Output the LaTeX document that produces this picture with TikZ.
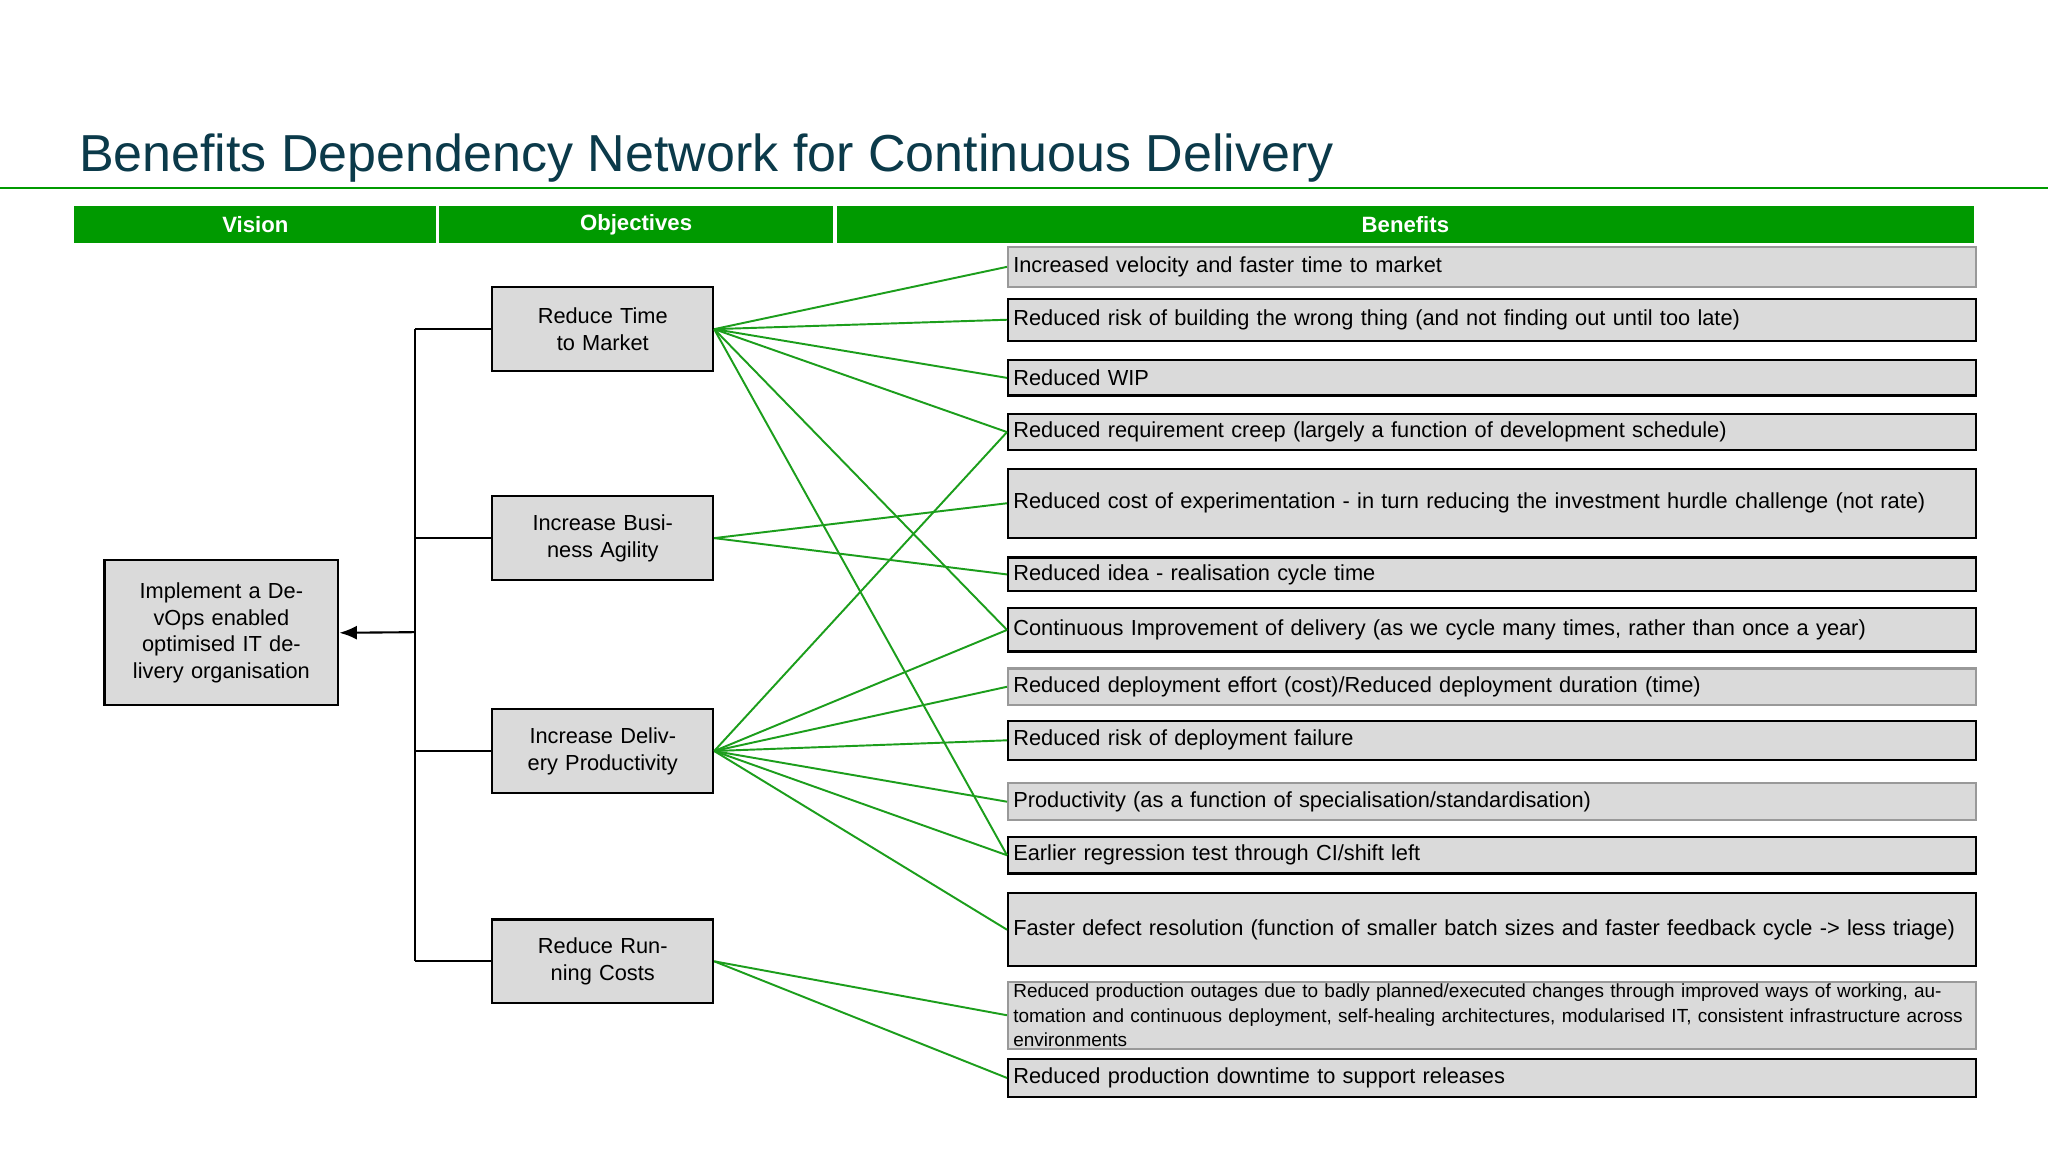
\documentclass[tikz,border=0pt]{standalone}
\usepackage{fontspec}
\setmainfont{Liberation Sans}
\usetikzlibrary{arrows.meta}
\definecolor{hdrgreen}{HTML}{009A00}
\definecolor{lnkgreen}{HTML}{1C9E1C}
\definecolor{titleblue}{HTML}{0B3A4A}
\definecolor{boxgray}{HTML}{DADADA}
\newlength{\pxu}
\setlength{\pxu}{0.01306cm}
\begin{document}
\begin{tikzpicture}[x=\pxu, y=-\pxu,
  box/.style={draw=black, fill=boxgray, line width=0.6pt, inner sep=0pt, align=center,
    font=\fontsize{6.2}{7.6}\selectfont},
  obj/.style={box, minimum width=169\pxu, minimum height=64\pxu, text width=160\pxu},
  ben/.style={box, anchor=north west, minimum width=741\pxu, text width=733\pxu, align=left},
  gben/.style={ben, draw=gray!80},
  hdr/.style={fill=hdrgreen, text=white, inner sep=0pt, font=\bfseries\fontsize{6.3}{7.5}\selectfont},
  link/.style={draw=lnkgreen, line width=0.55pt},
  tree/.style={draw=black, line width=0.6pt},
  ]
  \useasboundingbox[fill=white] (0,0) rectangle (1568,882);

  % title
  \node (title) [anchor=base west, inner sep=0pt, text=titleblue, font=\fontsize{14.8}{16}\selectfont] at (60,131) {Benefits Dependency Network for Continuous Delivery};
  \draw[hdrgreen, line width=0.5pt] (0,144) -- (1568,144);

  % header bar
  \node (hv) [hdr, minimum width=277\pxu, minimum height=28\pxu] at (195.5,172) {Vision};
  \node (ho) [hdr, minimum width=302\pxu, minimum height=28\pxu] at (487,172) {Objectives};
  \node (hb) [hdr, minimum width=871\pxu, minimum height=28\pxu] at (1076,172) {Benefits};

  % vision
  \node (vis) [box, minimum width=179\pxu, minimum height=111\pxu, text width=150\pxu] at (169.5,484.5)
    {Implement a DevOps enabled optimised IT delivery organisation};

  % objectives
  \node (o1) [obj] at (461.5,252) {Reduce Time to Market};
  \node (o2) [obj] at (461.5,412) {Increase Business Agility};
  \node (o3) [obj] at (461.5,575) {Increase Delivery Productivity};
  \node (o4) [obj] at (461.5,736) {Reduce Running Costs};

  % tree
  \coordinate (tt) at (318,252);
  \coordinate (tb) at (318,736);
  \coordinate (tm) at (318,484);
  \coordinate (t2) at (318,412);
  \coordinate (t3) at (318,575);
  \path[tree] (tt) -- (tb);
  \path[tree] (tt) -- (o1.west);
  \path[tree] (t2) -- (o2.west);
  \path[tree] (t3) -- (o3.west);
  \path[tree] (tb) -- (o4.west);
  \draw[tree, -{Latex[length=5pt,width=4pt]}] (tm) -- (vis.east);

  % benefits
  \node (b1) [gben, minimum height=31\pxu] at (771,188) {Increased velocity and faster time to market};
  \node (b2) [ben, minimum height=32\pxu] at (771,228) {Reduced risk of building the wrong thing (and not finding out until too late)};
  \node (b3) [ben, minimum height=27\pxu] at (771,275) {Reduced WIP};
  \node (b4) [ben, minimum height=28\pxu] at (771,316) {Reduced requirement creep (largely a function of development schedule)};
  \node (b5) [ben, minimum height=53\pxu] at (771,358) {Reduced cost of experimentation - in turn reducing the investment hurdle challenge (not rate)};
  \node (b6) [ben, minimum height=26\pxu] at (771,426) {Reduced idea - realisation cycle time};
  \node (b7) [ben, minimum height=33\pxu] at (771,465) {Continuous Improvement of delivery (as we cycle many times, rather than once a year)};
  \node (b8) [gben, minimum height=28\pxu] at (771,511) {Reduced deployment effort (cost)/Reduced deployment duration (time)};
  \node (b9) [ben, minimum height=30\pxu] at (771,551) {Reduced risk of deployment failure};
  \node (b10) [gben, minimum height=28\pxu] at (771,599) {Productivity (as a function of specialisation/standardisation)};
  \node (b11) [ben, minimum height=28\pxu] at (771,640) {Earlier regression test through CI/shift left};
  \node (b12) [ben, minimum height=56\pxu] at (771,683) {Faster defect resolution (function of smaller batch sizes and faster feedback cycle -> less triage)};
  \node (b13) [gben, minimum height=51\pxu, font=\fontsize{5.4}{6.9}\selectfont] at (771,751)
    {Reduced production outages due to badly planned/executed changes through improved ways of working, automation and continuous deployment, self-healing architectures, modularised IT, consistent infrastructure across environments};
  \node (b14) [ben, minimum height=29\pxu] at (771,810) {Reduced production downtime to support releases};

  % links
  \foreach \b in {b1,b2,b3,b4,b7,b11} \path[link] (o1.east) -- (\b.west);
  \foreach \b in {b5,b6} \path[link] (o2.east) -- (\b.west);
  \foreach \b in {b4,b7,b8,b9,b10,b11,b12} \path[link] (o3.east) -- (\b.west);
  \foreach \b in {b13,b14} \path[link] (o4.east) -- (\b.west);
\end{tikzpicture}
\end{document}
